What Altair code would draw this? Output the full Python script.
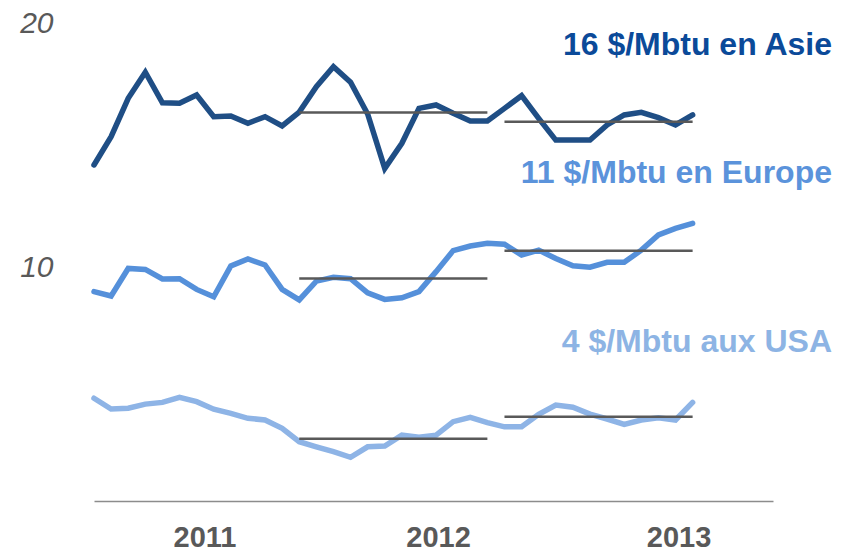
import altair as alt
import pandas as pd

# ---- data (monthly points, 36 per series) ----
series_names = ["Asie", "Europe", "USA"]
asia = [14.10, 15.26, 16.83, 17.90, 16.65, 16.63, 16.97, 16.08, 16.11, 15.81, 16.08, 15.70,
        16.27, 17.31, 18.13, 17.49, 16.19, 13.96, 14.99, 16.42, 16.56, 16.22, 15.90, 15.90,
        16.42, 16.94, 16.01, 15.12, 15.12, 15.12, 15.74, 16.15, 16.26, 16.04, 15.74, 16.15]
europe = [8.91, 8.73, 9.86, 9.82, 9.43, 9.44, 9.00, 8.70, 9.96, 10.25, 10.00, 9.00,
          8.57, 9.34, 9.50, 9.44, 8.86, 8.59, 8.66, 8.91, 9.73, 10.59, 10.78, 10.89,
          10.85, 10.41, 10.61, 10.27, 9.97, 9.91, 10.11, 10.11, 10.61, 11.23, 11.50, 11.71]
usa = [4.54, 4.10, 4.13, 4.30, 4.37, 4.58, 4.40, 4.09, 3.92, 3.72, 3.65, 3.31,
       2.76, 2.55, 2.35, 2.12, 2.55, 2.58, 3.03, 2.94, 3.03, 3.58, 3.76, 3.54,
       3.37, 3.37, 3.88, 4.26, 4.17, 3.89, 3.69, 3.47, 3.65, 3.74, 3.65, 4.37]

# 12-month averages (start index, end index, value per series)
avg_start = [12, 24]
avg_end = [23, 35]
avg_asia = [16.25, 15.87]
avg_europe = [9.45, 10.59]
avg_usa = [2.88, 3.78]

label_texts = ["16 $/Mbtu en Asie", "11 $/Mbtu en Europe", "4 $/Mbtu aux USA"]

year_labels = ["2011", "2012", "2013"]
year_pos = [6.46, 20.12, 34.18]
y_ticks = [10, 20]

# ---- styles ----
line_colors = ["#1F4E85", "#5590DA", "#8EB4E6"]
text_colors = ["#0B4A99", "#5B93DB", "#8DB4E4"]
FONT = "Liberation Sans"

rows = []
for name, vals in zip(series_names, [asia, europe, usa]):
    for i, v in enumerate(vals):
        rows.append({"idx": i, "value": v, "series": name})
df = pd.DataFrame(rows)

arows = []
for name, avs in zip(series_names, [avg_asia, avg_europe, avg_usa]):
    for s, e, a in zip(avg_start, avg_end, avs):
        arows.append({"series": name, "start": s, "end": e, "avg": a})
adf = pd.DataFrame(arows)

expr = "''"
for p, l in reversed(list(zip(year_pos, year_labels))):
    expr = f"abs(datum.value - {p}) < 0.01 ? '{l}' : ({expr})"

x_scale = alt.Scale(domain=[0, 39.7], nice=False, zero=False)
y_scale = alt.Scale(domain=[0.33, 20], nice=False, zero=False)

x_axis = alt.Axis(values=year_pos, labelExpr=expr, title=None, grid=False,
                  ticks=False, tickSize=0, domain=True, domainColor="#8C8C8C",
                  domainWidth=1.5, labelFont=FONT, labelFontSize=29,
                  labelFontWeight="bold", labelColor="#595959", labelPadding=22,
                  labelFlush=False, labelOverlap=False)
y_axis = alt.Axis(values=y_ticks, title=None, grid=False, ticks=False, tickSize=0,
                  domain=False, labelFont=FONT, labelFontSize=30,
                  labelFontStyle="italic", labelColor="#595959", labelPadding=41,
                  labelOffset=2, labelFlush=False, labelOverlap=False)

lines = alt.Chart(df).mark_line(strokeWidth=5.5, strokeCap="round").encode(
    x=alt.X("idx:Q", scale=x_scale, axis=x_axis),
    y=alt.Y("value:Q", scale=y_scale, axis=y_axis),
    color=alt.Color("series:N", scale=alt.Scale(domain=series_names, range=line_colors),
                    legend=None),
    detail="series:N",
)

rules = alt.Chart(adf).mark_rule(color="#595959", strokeWidth=2.5).encode(
    x=alt.X("start:Q", scale=x_scale),
    x2="end:Q",
    y=alt.Y("avg:Q", scale=y_scale),
)

label_y = [34, 162, 331]
texts = []
for t, c, yy in zip(label_texts, text_colors, label_y):
    texts.append(
        alt.Chart(alt.Data(values=[{"t": t}])).mark_text(
            align="right", baseline="alphabetic", font=FONT, fontSize=32,
            fontWeight="bold", color=c
        ).encode(x=alt.value(738), y=alt.value(yy), text="t:N")
    )

chart = alt.layer(lines, rules, *texts).properties(
    width=679, height=480,
    padding={"left": 86, "top": 13, "right": 61, "bottom": 50},
    autosize=alt.AutoSizeParams(type="none"),
).configure_view(stroke=None)

chart.save("out.html", embed_options={"renderer": "svg", "actions": False})
